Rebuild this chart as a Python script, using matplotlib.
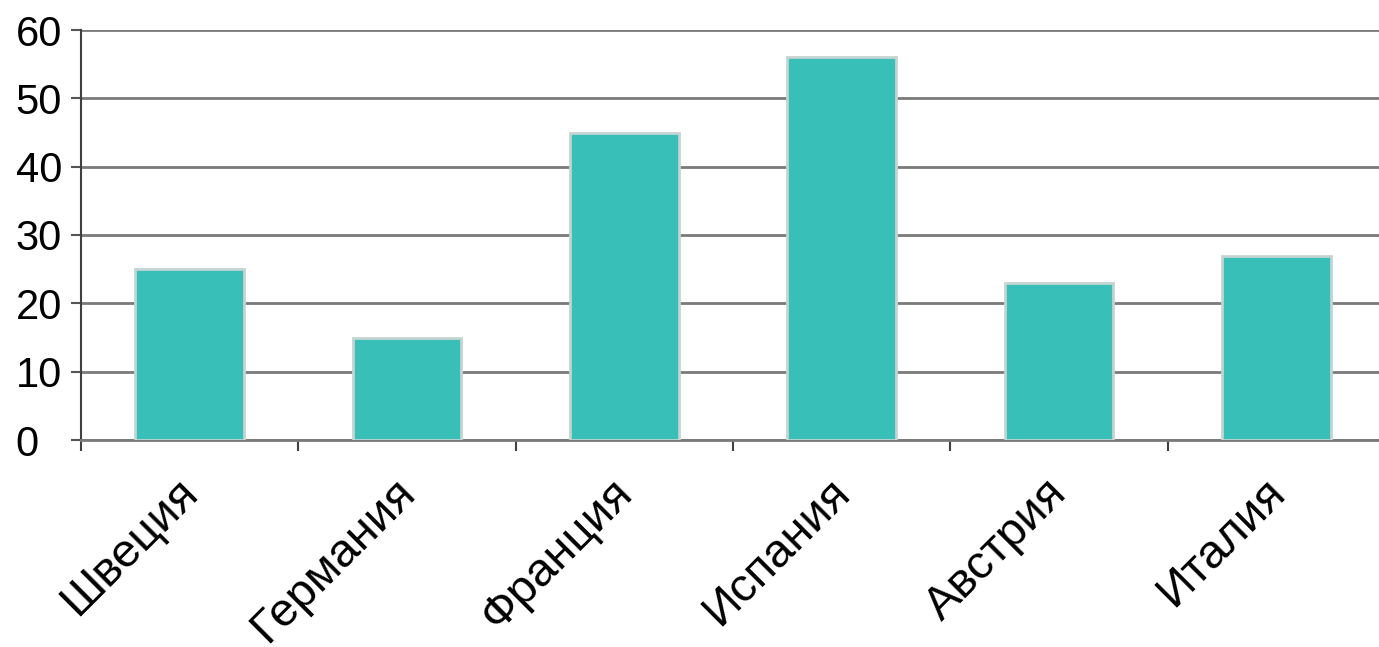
import matplotlib
matplotlib.use('Agg')
from matplotlib import pyplot as plt
from matplotlib import transforms
import numpy as np

countries = ['Швеция', 'Германия', 'Франция', 'Испания', 'Австрия', 'Италия']
values = [25, 15, 45, 56, 23, 27]

plt.rcParams['font.family'] = ['Liberation Sans', 'DejaVu Sans']

fig = plt.figure(figsize=(13.79, 6.47), dpi=100)
ax = fig.add_axes([81 / 1379, 207 / 647, 1304 / 1379, 410 / 647])

x = np.arange(len(countries))
ax.bar(x, values, width=0.5, color='#38bfb7', edgecolor='#c4d4d2', linewidth=2, zorder=3)

ax.set_xlim(-0.5, len(countries) - 0.5)
ax.set_ylim(0, 60)
ax.set_yticks(range(0, 61, 10))
ax.yaxis.grid(True, color='#7a7a7a', linewidth=2, zorder=0)

ax.set_xticks(x)
ax.set_xticklabels(countries, rotation=45, ha='right', va='top', rotation_mode='anchor', fontsize=34)
ax.set_xticks(np.arange(-0.5, len(countries), 1), minor=True)
ax.tick_params(axis='x', which='major', length=0, pad=22)
ax.tick_params(axis='x', which='minor', length=8, width=1.5, color='#404040')
ax.tick_params(axis='y', length=7, width=1.5, color='#555555', labelsize=30, pad=40)

# nudge the category labels a bit to the left
shift = transforms.ScaledTranslation(-14 / 100, 0, fig.dpi_scale_trans)
for lbl in ax.get_xticklabels():
    lbl.set_transform(lbl.get_transform() + shift)

# y labels are left aligned in the original
for lbl in ax.get_yticklabels():
    lbl.set_horizontalalignment('left')

for s in ['top', 'right']:
    ax.spines[s].set_visible(False)
ax.spines['left'].set_color('#404040')
ax.spines['left'].set_linewidth(1.5)
ax.spines['bottom'].set_color('#7a7a7a')
ax.spines['bottom'].set_linewidth(2)

fig.savefig('out.png', dpi=100)
